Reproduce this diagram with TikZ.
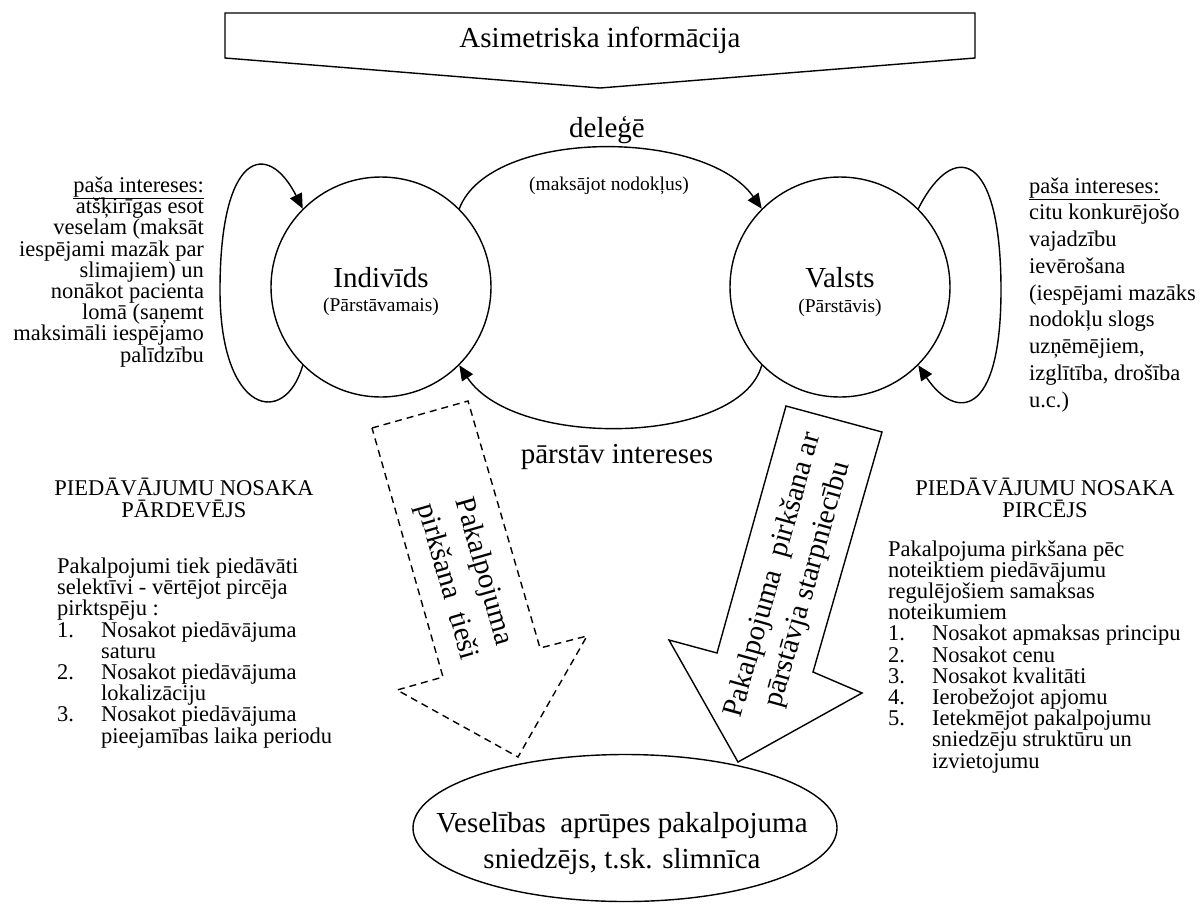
\documentclass[tikz,border=0pt]{standalone}
\usepackage{fontspec}
\setmainfont{Liberation Serif}
\usetikzlibrary{arrows.meta,shapes.geometric}
\lineskiplimit=-100pt
\newcommand\mylab[1]{\makebox[44pt][l]{#1}}
\newcommand\mygap{\hspace*{44pt}}
\begin{document}
\begin{tikzpicture}[x=1pt,y=1pt,line width=1.4pt,
  big/.style={font=\fontsize{29}{34}\selectfont},
  sub/.style={font=\fontsize{19.5}{23}\selectfont},
  body/.style={font=\fontsize{22.5}{21.2}\selectfont},
  party/.style={circle,draw,minimum size=220pt,inner sep=0pt},
  flow/.style={-{Triangle[length=15pt,width=13pt]}},
  hollow/.style={draw,line join=miter}]
\useasboundingbox (0,0) rectangle (1200,-903);

% banner
\draw[hollow] (225,-13) -- (975,-13) -- (975,-58) -- (600,-88) -- (225,-58) -- cycle;
\node[big,anchor=base] (asym) at (600,-47) {Asimetriska informācija};

% the two parties
\node[party] (ind) at (381,-287) {};
\node[party] (val) at (840,-287) {};
\node[big,anchor=base] (indname) at (381,-287) {Indivīds};
\node[sub,anchor=base] (indrole) at (381,-311) {(Pārstāvamais)};
\node[big,anchor=base] (valname) at (840,-287) {Valsts};
\node[sub,anchor=base] (valrole) at (840,-312) {(Pārstāvis)};

% delegation and representation
\draw[flow] (ind.45) .. controls (490,-128) and (705,-128) .. (val.135);
\node[big,anchor=base] (deleg) at (607,-137) {deleģē};
\node[sub,anchor=base] (tax) at (609,-190) {(maksājot nodokļus)};
\draw[flow] (val.225) .. controls (740,-445) and (515,-450) .. (ind.315);
\node[big,anchor=base] (repr) at (617,-463) {pārstāv intereses};

% self-interest loops
\coordinate (lw) at (220,-290);
\coordinate (rw) at (1001,-290);
\draw[flow] (ind.225) .. controls (285,-428) and (220,-415) .. (lw)
  .. controls (220,-150) and (268,-140) .. (ind.135);
\draw[flow] (val.45) .. controls (953,-140) and (1001,-150) .. (rw)
  .. controls (1001,-420) and (955,-420) .. (val.315);

% multi-line nodes are placed by the baseline of their last line
\node[body,align=right,anchor=base east] (indint) at (208,-362)
 {\underline{paša intereses:}\\atšķirīgas esot\\veselam (maksāt\\iespējami mazāk par\\slimajiem) un\\nonākot pacienta\\lomā (saņemt\\maksimāli iespējamo\\palīdzību};
\node[font=\fontsize{22.5}{26.75}\selectfont,align=left,anchor=base west] (valint) at (1025,-407)
 {\underline{paša intereses:}\\citu konkurējošo\\vajadzību\\ievērošana\\(iespējami mazāks\\nodokļu slogs\\uzņēmējiem,\\izglītība, drošība\\u.c.)};

% service provider
\node[ellipse,draw,minimum width=424pt,minimum height=147pt,inner sep=0pt] (prov) at (625,-828) {};
\node[font=\fontsize{29}{36}\selectfont,align=center,anchor=base] (provtxt) at (622,-868)
 {Veselības\ \ aprūpes pakalpojuma\\sniedzējs, t.sk. slimnīca};

% direct purchase (dashed block arrow)
\draw[hollow,dash pattern=on 7pt off 5pt] (372,-428) -- (468,-401) -- (540,-648) -- (587,-636)
  -- (518,-757) -- (397,-690) -- (443,-677) -- cycle;
\node[font=\fontsize{29}{38}\selectfont,align=center,rotate=-74.1] (direct) at (465,-577)
 {Pakalpojuma\\pirkšana\ \ tieši};

% purchase through the agent (solid block arrow)
\draw[hollow] (786,-406) -- (882,-432) -- (813,-672) -- (862,-693)
  -- (738,-762) -- (669,-640) -- (717,-653) -- cycle;
\node[font=\fontsize{29}{36}\selectfont,align=center,rotate=74.4] (agent) at (791,-580)
 {Pakalpojuma\ \ pirkšana ar\\pārstāvja starpniecību};

% seller-defined supply
\node[body,align=center,anchor=base] (sellhead) at (184,-517)
 {PIEDĀVĀJUMU NOSAKA\\PĀRDEVĒJS};
\node[body,align=left,anchor=base west] (selltxt) at (53,-743)
 {Pakalpojumi tiek piedāvāti\\selektīvi - vērtējot pircēja\\pirktspēju :\\
  \mylab{1.}Nosakot piedāvājuma\\\mygap saturu\\
  \mylab{2.}Nosakot piedāvājuma\\\mygap lokalizāciju\\
  \mylab{3.}Nosakot piedāvājuma\\\mygap pieejamības laika periodu};

% buyer-defined supply
\node[body,align=center,anchor=base] (buyhead) at (1045,-517)
 {PIEDĀVĀJUMU NOSAKA\\PIRCĒJS};
\node[body,align=left,anchor=base west] (buytxt) at (884,-768)
 {Pakalpojuma pirkšana pēc\\noteiktiem piedāvājumu\\regulējošiem samaksas\\noteikumiem\\
  \mylab{1.}Nosakot apmaksas principu\\
  \mylab{2.}Nosakot cenu\\
  \mylab{3.}Nosakot kvalitāti\\
  \mylab{4.}Ierobežojot apjomu\\
  \mylab{5.}Ietekmējot pakalpojumu\\\mygap sniedzēju struktūru un\\\mygap izvietojumu};
\end{tikzpicture}
\end{document}
